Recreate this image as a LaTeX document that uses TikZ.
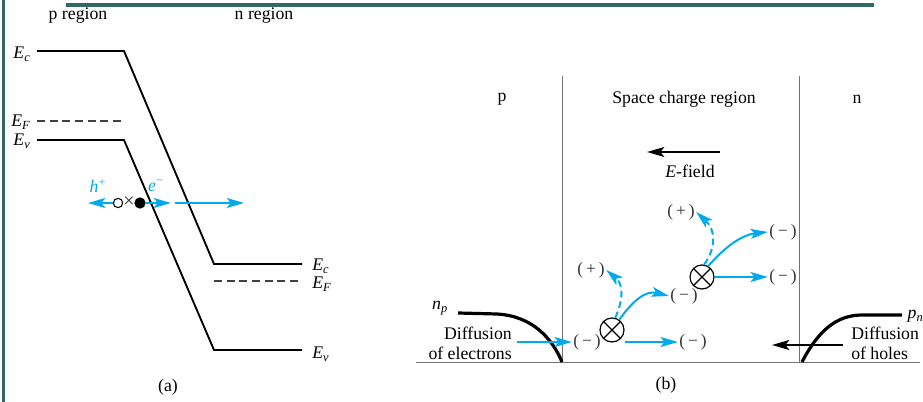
\documentclass[tikz,border=0pt]{standalone}
\usepackage{fontspec}
\setmainfont{Liberation Serif}
\usetikzlibrary{arrows.meta}
\definecolor{frameteal}{RGB}{48,106,102}
\definecolor{flowcyan}{RGB}{0,170,236}
\newcommand{\lev}[2]{\textit{#1}\textsubscript{\textit{#2}}}
\begin{document}
\begin{tikzpicture}[x=0.75pt,y=-0.75pt,font=\fontsize{13.3}{15}\selectfont]
  \tikzstyle{band}=[line width=1.4pt]
  \tikzstyle{fermi}=[line width=1.4pt, black!75, dash pattern=on 6pt off 3.5pt]
  \tikzstyle{wall}=[line width=0.7pt, black!55]
  \tikzstyle{conc}=[line width=2.4pt]
  \tikzstyle{flow}=[line width=1.5pt, flowcyan, -{Stealth[length=13pt,width=7.5pt,inset=3pt]}]
  \tikzstyle{flowdash}=[flow, dash pattern=on 5pt off 3pt]
  \tikzstyle{push}=[line width=1.5pt, -{Stealth[length=13pt,width=7.5pt,inset=3pt]}]
  \tikzstyle{chg}=[font=\fontsize{13}{14}\selectfont, inner sep=1pt, text=black!80]
  \tikzstyle{pairgen}=[circle, draw, line width=0.9pt, minimum size=18pt, inner sep=0pt,
    path picture={\draw[line width=0.9pt] (path picture bounding box.north west) -- (path picture bounding box.south east)
      (path picture bounding box.north east) -- (path picture bounding box.south west);}]

  \useasboundingbox (0,0) rectangle (923,402);

  % frame
  \draw[frameteal, line width=3pt] (66,5) -- (874,5);
  \draw[frameteal, line width=2.4pt] (3.5,0) -- (3.5,402);

  % (a) band diagram
  \node (preg) at (78,16) {p region};
  \node (nreg) at (264,16) {n region};
  \draw[band] (37,51) -- (124,51) -- (214,264) -- (302,264);
  \draw[band] (37,140) -- (124,140) -- (214,350) -- (302,350);
  \draw[fermi] (37,121) -- (124,121);
  \draw[fermi] (214,281) -- (302,281);
  \node (ecl) at (22,54) {\lev{E}{c}};
  \node (efl) at (21,122) {\lev{E}{F}};
  \node (evl) at (22,141) {\lev{E}{v}};
  \node[anchor=west, inner sep=0pt] (ecr) at (312,266) {\lev{E}{c}};
  \node[anchor=west, inner sep=0pt] (efr) at (312,284) {\lev{E}{F}};
  \node[anchor=west, inner sep=0pt] (evr) at (312,354) {\lev{E}{v}};

  \node[circle, draw, line width=0.8pt, minimum size=7pt, inner sep=0pt] (hole) at (118,203) {};
  \node[circle, fill, minimum size=8.5pt, inner sep=0pt] (elec) at (140,203) {};
  \node[inner sep=0pt, font=\fontsize{15}{16}\selectfont, text=black!80] (cross) at (129,202) {×};
  \node[text=flowcyan] (hlab) at (98,186) {\textit{h}\textsuperscript{+}};
  \node[text=flowcyan] (elab) at (156,186) {\textit{e}\textsuperscript{−}};
  \coordinate (hend) at (88,203);
  \coordinate (eend) at (171,203);
  \coordinate (fstart) at (175,203);
  \coordinate (fend) at (244,203);
  \draw[flow] (hole.west) -- (hend);
  \draw[flow] (elec.east) -- (eend);
  \draw[flow] (fstart) -- (fend);
  \node (alab) at (168,387) {(a)};

  % (b) space charge region
  \draw[wall] (416,362) -- (920,362);
  \draw[wall] (562.5,76) -- (562.5,362);
  \draw[wall] (799,76) -- (799,362);
  \node (pside) at (502,99) {p};
  \node (scr) at (684,99) {Space charge region};
  \node (nside) at (857,99) {n};

  \coordinate (fieldtail) at (720,152);
  \coordinate (fieldhead) at (647,152);
  \draw[push] (fieldtail) -- (fieldhead);
  \node (fieldlab) at (690,171) {\textit{E}-field};

  \draw[conc] (458,313) -- (497,314) .. controls (532,316) and (552,338) .. (562,362);
  \draw[conc] (802,362) .. controls (817,333) and (835,315) .. (862,315) -- (902,315);
  \node (np) at (440,308) {\lev{n}{p}};
  \node[anchor=west] (pn) at (903,316) {\lev{p}{n}};
  \node[anchor=east, align=right, inner sep=0pt] (ediff) at (512,343) {Diffusion\\of electrons};
  \node[anchor=west, align=left, inner sep=0pt] (hdiff) at (851,343) {Diffusion\\of holes};
  \coordinate (holetail) at (843,345);
  \coordinate (holehead) at (772,345);
  \draw[push] (holetail) -- (holehead);

  \node[pairgen] (gen1) at (612,330) {};
  \node[pairgen] (gen2) at (702,277) {};
  \node[chg] (min0) at (587,342) {(\,−\,)};
  \node[chg] (min1) at (693,342) {(\,−\,)};
  \node[chg] (min2) at (684,296) {(\,−\,)};
  \node[chg] (min3) at (783,277) {(\,−\,)};
  \node[chg] (min4) at (783,232) {(\,−\,)};
  \node[chg] (pls1) at (591,270) {(\,+\,)};
  \node[chg] (pls2) at (681,212) {(\,+\,)};
  \coordinate (etail) at (517,342);
  \draw[flow] (etail) -- (min0.west);
  \draw[flow] (gen1.east |- min1.west) -- (min1.west);
  \draw[flowdash] (gen1.75) .. controls (623,300) and (624,285) .. (pls1.east);
  \draw[flow] (gen1.55) .. controls (632,302) and (645,290) .. (min2.west);
  \draw[flow] (gen2.east |- min3.west) -- (min3.west);
  \draw[flowdash] (gen2.80) .. controls (716,248) and (716,230) .. (pls2.east);
  \draw[flow] (gen2.60) .. controls (722,250) and (740,235) .. (min4.west);
  \node (blab) at (666,385) {(b)};
\end{tikzpicture}
\end{document}
